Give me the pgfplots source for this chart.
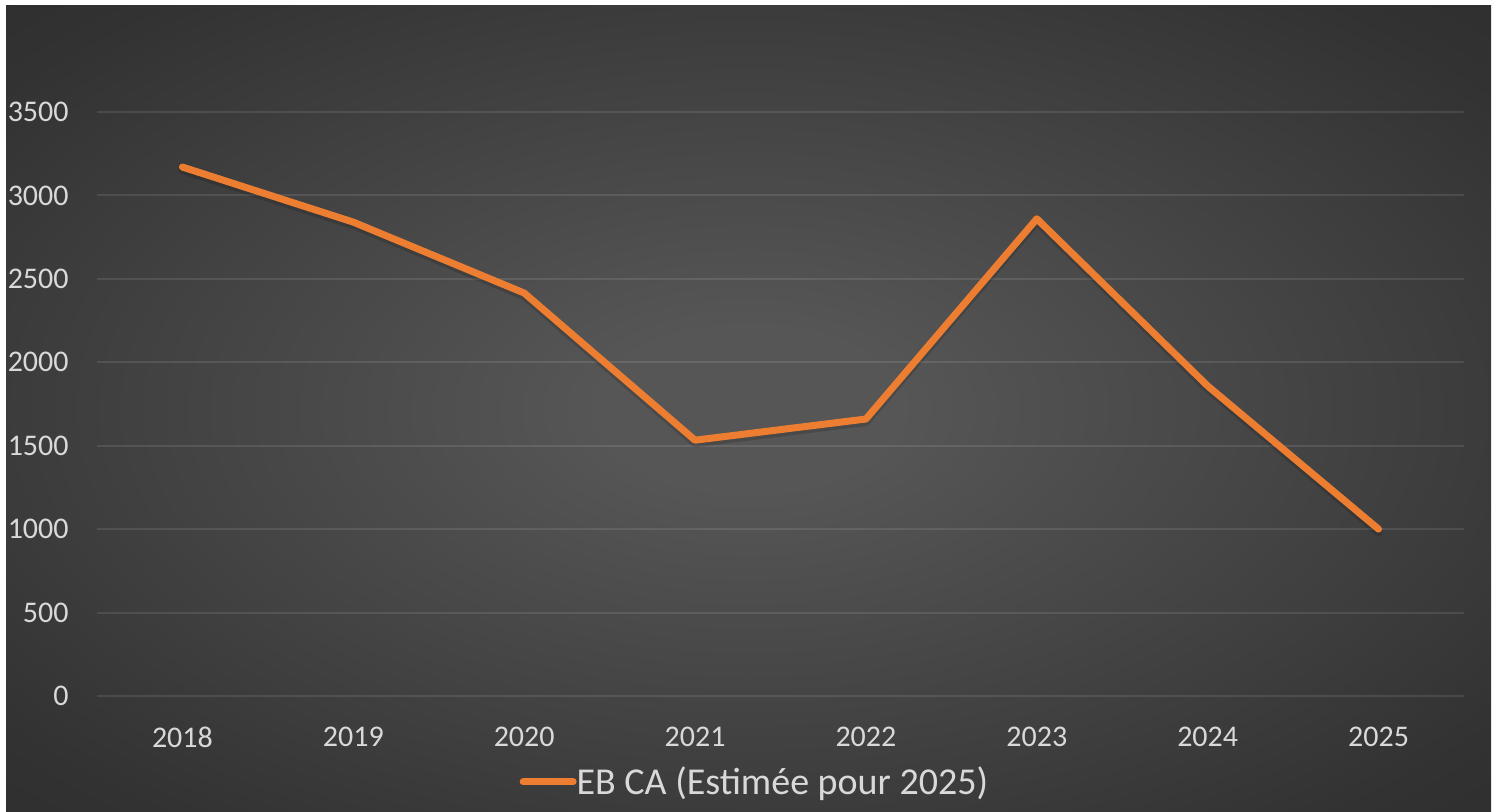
\documentclass[border=0pt]{standalone}
\usepackage{pgfplots}
\pgfplotsset{compat=1.18}
\usepackage{fontspec}
\setmainfont{Carlito}
\definecolor{lbl}{RGB}{217,217,217}
\definecolor{orangeline}{RGB}{237,125,49}
\definecolor{bgin}{RGB}{86,86,86}
\definecolor{bgmid}{RGB}{50,50,50}
\definecolor{bgout}{RGB}{36,36,36}
\pgfdeclareradialshading{chartbg}{\pgfpoint{0bp}{0bp}}{%
  color(0bp)=(bgin); color(5bp)=(bgin); color(32bp)=(bgmid); color(50bp)=(bgout); color(71bp)=(bgout)}
\begin{document}
\begin{tikzpicture}
% page: 1497x812 px at 0.5pt per px
\fill[white] (0,0) rectangle (748.5pt,406pt);
\shade[shading=chartbg] (3pt,0pt) rectangle (745.5pt,403pt);
\begin{axis}[
    at={(48.5pt,58pt)}, anchor=south west,
    scale only axis,
    width=683.5pt, height=292pt,
    xmin=-0.5, xmax=7.5,
    ymin=0, ymax=3500,
    clip=false,
    axis line style={draw=none},
    tick style={draw=none},
    xtick={0,1,2,3,4,5,6,7},
    xticklabels={2018,2019,2020,2021,2022,2023,2024,2025},
    ytick={0,500,1000,1500,2000,2500,3000,3500},
    ymajorgrids,
    major grid style={white, opacity=0.1, line width=1pt},
    /pgf/number format/.cd, 1000 sep={}, assume math mode=true,
    /pgfplots/.cd,
    ticklabel style={font=\fontsize{15}{18}\selectfont, text=lbl},
    xticklabel style={anchor=center, inner sep=0pt, yshift=-20.5pt},
    yticklabel style={anchor=east, inner sep=0pt, xshift=-14pt},
    legend style={at={(0.482,-0.147)}, anchor=center, draw=none, fill=none,
        font=\fontsize{19}{22}\selectfont, text=lbl,
        /tikz/every even column/.append style={column sep=0pt}},
    legend image code/.code={\draw[#1, line cap=round] (0pt,0pt) -- (25pt,0pt);},
]
\addplot[forget plot, black, opacity=0.15, line width=4pt, line cap=round,
    line join=round, yshift=-1.5pt] coordinates {
    (0,3170) (1,2840) (2,2415) (3,1533) (4,1660) (5,2860) (6,1858) (7,1000)
};
\addplot[orangeline, line width=3.5pt, line cap=round, line join=round] coordinates {
    (0,3170) (1,2840) (2,2415) (3,1533) (4,1660) (5,2860) (6,1858) (7,1000)
};
\addlegendentry{\hspace*{-2pt}EB CA (Estimée pour 2025)}
\end{axis}
\end{tikzpicture}
\end{document}
